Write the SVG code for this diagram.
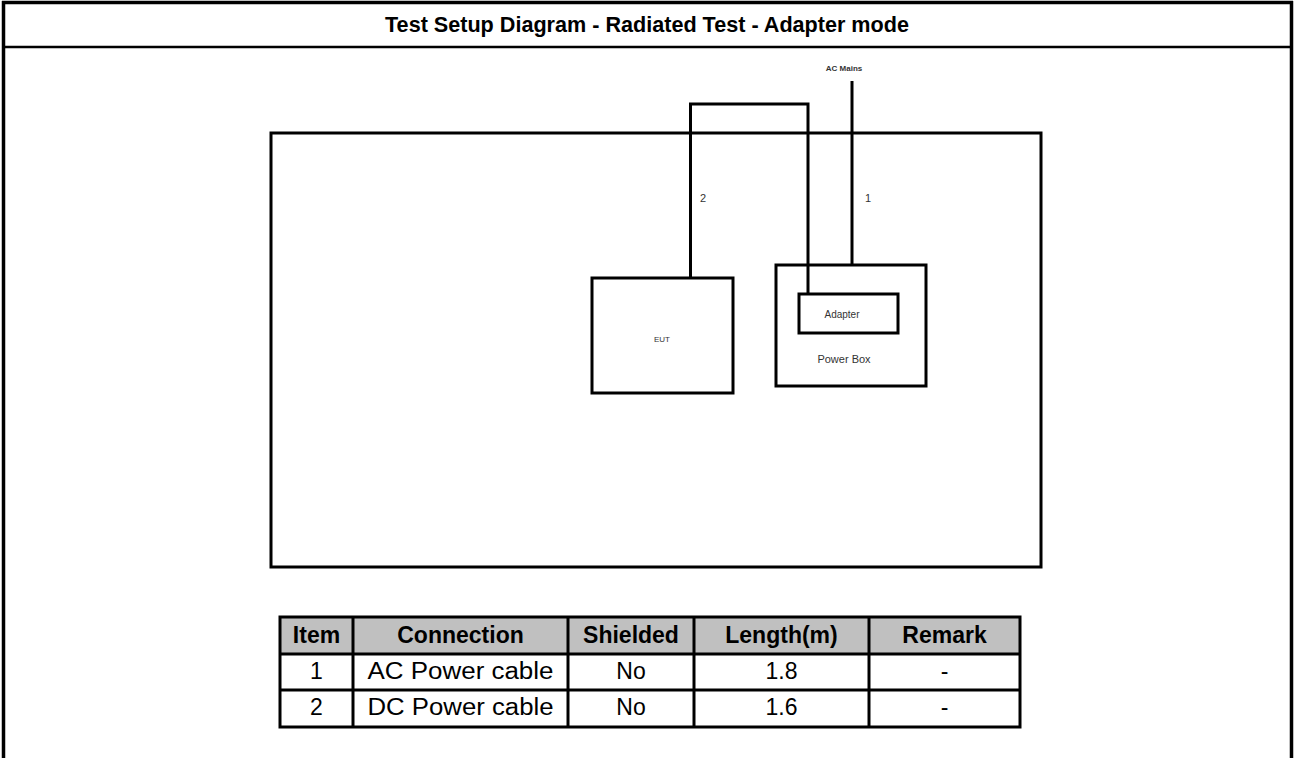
<svg xmlns="http://www.w3.org/2000/svg" width="1295" height="758" viewBox="0 0 1295 758">
  <style>
    .frame { stroke: #000; fill: none; }
    .box { fill: none; stroke: #000; stroke-width: 3; }
    .cable { fill: none; stroke: #000; stroke-width: 3; }
    .small { font-family: "Liberation Sans", Arial, sans-serif; fill: #333; text-anchor: middle; }
    .title { font-family: "Liberation Sans", Arial, sans-serif; font-weight: bold; font-size: 21.6px; text-anchor: middle; fill: #000; }
    .th { font-family: "Liberation Sans", Arial, sans-serif; font-weight: bold; font-size: 23px; text-anchor: middle; fill: #000; }
    .td { font-family: "Liberation Sans", Arial, sans-serif; font-size: 23px; text-anchor: middle; fill: #000; }
    .grid { stroke: #000; stroke-width: 3; fill: none; }
  </style>
  <rect x="0" y="0" width="1295" height="758" fill="#fff"/>

  <g id="page-frame">
    <line class="frame" x1="2" y1="2.5" x2="1293" y2="2.5" stroke-width="3.5"/>
    <line class="frame" x1="3.5" y1="1" x2="3.5" y2="758" stroke-width="3.5"/>
    <line class="frame" x1="1291.5" y1="1" x2="1291.5" y2="758" stroke-width="3.5"/>
    <line class="frame" x1="2" y1="47" x2="1293" y2="47" stroke-width="2.5"/>
    <text class="title" x="647" y="32">Test Setup Diagram - Radiated Test - Adapter mode</text>
  </g>

  <g id="table-area">
    <rect class="box" x="271" y="133" width="770" height="434"/>
  </g>

  <g id="connectors">
    <path class="cable" d="M690.5,278 V104 H808 V294"/>
    <path class="cable" d="M852,81 V265"/>
    <text class="small" x="703" y="202" font-size="11" fill="#555">2</text>
    <text class="small" x="868" y="202" font-size="11" fill="#555">1</text>
    <text class="small" x="844" y="71" font-size="8" font-weight="bold">AC Mains</text>
  </g>

  <g id="eut">
    <rect class="box" x="592" y="278" width="141" height="115"/>
    <text class="small" x="662" y="342" font-size="8">EUT</text>
  </g>

  <g id="power-box">
    <rect class="box" x="776" y="265" width="150" height="121"/>
    <text class="small" x="844" y="363" font-size="11">Power Box</text>
  </g>

  <g id="adapter">
    <rect class="box" x="799" y="294" width="99" height="39"/>
    <text class="small" x="842" y="318" font-size="10">Adapter</text>
  </g>

  <g id="cable-table">
    <rect x="280" y="617" width="740" height="37" fill="#c0c0c0"/>
    <rect class="grid" x="280" y="617" width="740" height="110"/>
    <line class="grid" x1="280" y1="654" x2="1020" y2="654"/>
    <line class="grid" x1="280" y1="690" x2="1020" y2="690"/>
    <line class="grid" x1="353" y1="617" x2="353" y2="727"/>
    <line class="grid" x1="568" y1="617" x2="568" y2="727"/>
    <line class="grid" x1="694" y1="617" x2="694" y2="727"/>
    <line class="grid" x1="869" y1="617" x2="869" y2="727"/>
    <text class="th" x="316.5" y="643">Item</text>
    <text class="th" x="460.5" y="643">Connection</text>
    <text class="th" x="631" y="643">Shielded</text>
    <text class="th" x="781.5" y="643">Length(m)</text>
    <text class="th" x="944.5" y="643">Remark</text>
    <text class="td" x="316.5" y="679">1</text>
    <text class="td" x="460.5" y="679" textLength="186" lengthAdjust="spacingAndGlyphs">AC Power cable</text>
    <text class="td" x="631" y="679">No</text>
    <text class="td" x="781.5" y="679">1.8</text>
    <text class="td" x="944.5" y="679">-</text>
    <text class="td" x="316.5" y="715">2</text>
    <text class="td" x="460.5" y="715" textLength="186" lengthAdjust="spacingAndGlyphs">DC Power cable</text>
    <text class="td" x="631" y="715">No</text>
    <text class="td" x="781.5" y="715">1.6</text>
    <text class="td" x="944.5" y="715">-</text>
  </g>
</svg>
